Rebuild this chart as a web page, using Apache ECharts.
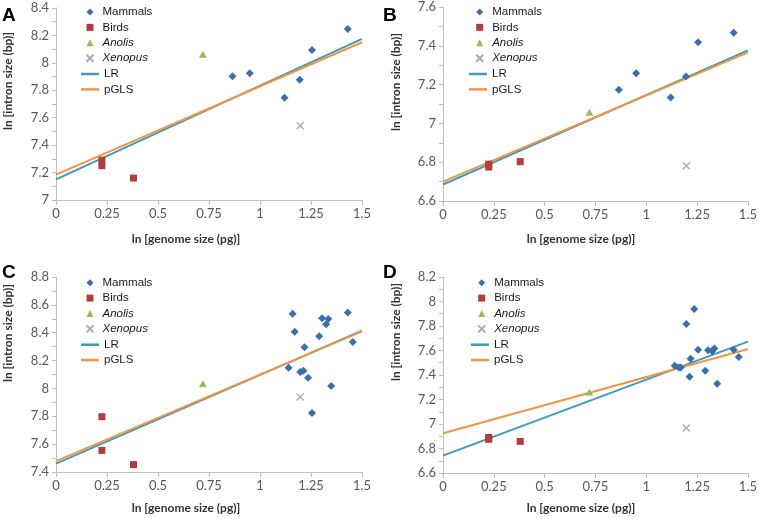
<!DOCTYPE html>
<html><head><meta charset="utf-8">
<script src="https://cdn.jsdelivr.net/npm/echarts@6/dist/echarts.min.js"></script>
<style>html,body{margin:0;padding:0;background:#fff}#c{width:760px;height:519px}</style>
</head><body><div id="c"></div><script>
// ---------- data ----------
const panels = ['A', 'B', 'C', 'D'];
const xTickInterval = 0.25;
const xMin = 0, xMax = 1.5;
const yMins = [7, 6.6, 7.4, 6.6];
const yMaxs = [8.4, 7.6, 8.8, 8.2];
const yInterval = 0.2;

const mamX_AB = [0.865, 0.95, 1.12, 1.195, 1.255, 1.43];
const mamA = [7.902, 7.924, 7.746, 7.877, 8.094, 8.247];
const mamB = [7.173, 7.259, 7.134, 7.242, 7.418, 7.467];
const mamX_CD = [1.14, 1.16, 1.17, 1.197, 1.213, 1.218, 1.236, 1.255, 1.29, 1.304, 1.324, 1.335, 1.349, 1.43, 1.455];
const mamC = [8.149, 8.537, 8.407, 8.118, 8.127, 8.295, 8.077, 7.824, 8.374, 8.503, 8.46, 8.498, 8.018, 8.546, 8.333];
const mamD = [7.476, 7.462, 7.462, 7.816, 7.386, 7.533, 7.939, 7.607, 7.435, 7.602, 7.593, 7.617, 7.329, 7.607, 7.547];

const birdX = [0.225, 0.225, 0.38];
const birdA = [7.29, 7.25, 7.16];
const birdB = [6.79, 6.775, 6.803];
const birdC = [7.797, 7.555, 7.453];
const birdD = [6.89, 6.875, 6.858];

const anolisX = 0.72;
const anolisY = [8.062, 7.058, 8.034, 7.261];
const xenopusX = 1.197;
const xenopusY = [7.542, 6.782, 7.939, 6.967];

const lineX = [0, 1.5];
const lrA = [7.15, 8.175], lrB = [6.685, 7.376], lrC = [7.46, 8.415], lrD = [6.742, 7.672];
const pgA = [7.185, 8.15], pgB = [6.70, 7.366], pgC = [7.478, 8.41], pgD = [6.925, 7.612];

const xTitle = 'ln [genome size (pg)]';
const yTitle = 'ln [intron size (bp)]';

// ---------- build ----------
const mamXs = [mamX_AB, mamX_AB, mamX_CD, mamX_CD];
const mamYs = [mamA, mamB, mamC, mamD];
const birdYs = [birdA, birdB, birdC, birdD];
const lrs = [lrA, lrB, lrC, lrD];
const pgs = [pgA, pgB, pgC, pgD];

const grids = [
  {left: 56, top: 8, width: 306, height: 192},
  {left: 443, top: 7, width: 305, height: 194},
  {left: 56, top: 277, width: 306, height: 195},
  {left: 443, top: 277, width: 305, height: 196}
];
const legendPos = [
  {sx: 85.5, lx: 81, top: 5.5},
  {sx: 475.2, lx: 469, top: 5.5},
  {sx: 85.5, lx: 81, top: 276.2},
  {sx: 477.2, lx: 471, top: 276.2}
];
const letterPos = [[2, 6], [383, 6], [2, 263], [383, 263]];
const xTitlePos = [[186, 239], [581, 239], [186, 508], [581, 508]];
const yTitlePos = [[8, 81], [396, 82], [8, 333], [396, 332]];

const C_MAM = '#3A6EAD', C_BIRD = '#B33D3A', C_ANO = '#9BBB59', C_XEN = '#ABA5C2';
const C_LR = '#3E9BBE', C_PG = '#F39443';
const xSymbol = 'path://M0,0L10,10M10,0L0,10';

const zip = (xs, ys) => xs.map((x, i) => [x, ys[i]]);

const xAxis = [], yAxis = [], series = [], legend = [], graphic = [];
panels.forEach((p, i) => {
  xAxis.push({
    type: 'value', gridIndex: i, min: xMin, max: xMax, interval: xTickInterval,
    axisLine: {show: true, lineStyle: {color: '#BFBFBF', width: 1}},
    axisTick: {show: true, length: 5, lineStyle: {color: '#BFBFBF'}},
    axisLabel: {fontFamily: 'Lato', fontSize: 13, color: '#595959', margin: 7},
    splitLine: {show: false}
  });
  yAxis.push({
    type: 'value', gridIndex: i, min: yMins[i], max: yMaxs[i], interval: yInterval,
    axisLine: {show: true, lineStyle: {color: '#BFBFBF', width: 1}},
    axisTick: {show: true, length: 4, lineStyle: {color: '#BFBFBF'}},
    minorTick: {show: true, splitNumber: 2, length: 4, lineStyle: {color: '#BFBFBF'}},
    axisLabel: {fontFamily: 'Lato', fontSize: 13, color: '#595959', margin: 7},
    splitLine: {show: false}
  });
  series.push({
    name: 'LR', type: 'line', xAxisIndex: i, yAxisIndex: i, data: zip(lineX, lrs[i]),
    symbol: 'none', lineStyle: {color: C_LR, width: 2}, itemStyle: {color: C_LR}, silent: true, z: 2
  });
  series.push({
    name: 'pGLS', type: 'line', xAxisIndex: i, yAxisIndex: i, data: zip(lineX, pgs[i]),
    symbol: 'none', lineStyle: {color: C_PG, width: 2}, itemStyle: {color: C_PG}, silent: true, z: 2
  });
  series.push({
    name: 'Mammals', type: 'scatter', xAxisIndex: i, yAxisIndex: i, data: zip(mamXs[i], mamYs[i]),
    symbol: 'diamond', symbolSize: 8, itemStyle: {color: C_MAM, opacity: 1}, z: 3
  });
  series.push({
    name: 'Birds', type: 'scatter', xAxisIndex: i, yAxisIndex: i, data: zip(birdX, birdYs[i]),
    symbol: 'rect', symbolSize: 7, itemStyle: {color: C_BIRD, opacity: 1}, z: 3
  });
  series.push({
    name: 'Anolis', type: 'scatter', xAxisIndex: i, yAxisIndex: i, data: [[anolisX, anolisY[i]]],
    symbol: 'triangle', symbolSize: [8, 7], itemStyle: {color: C_ANO, opacity: 1}, z: 3
  });
  series.push({
    name: 'Xenopus', type: 'scatter', xAxisIndex: i, yAxisIndex: i, data: [[xenopusX, xenopusY[i]]],
    symbol: xSymbol, symbolSize: 7, itemStyle: {color: 'rgba(0,0,0,0)', borderColor: C_XEN, borderWidth: 1.3, opacity: 1}, z: 3
  });
  const lp = legendPos[i];
  const txt = {fontFamily: 'Liberation Sans', fontSize: 11.5, color: '#1A1A1A', lineHeight: 13, padding: [0, 0, 0, 4]};
  legend.push({
    orient: 'vertical', left: lp.sx, top: lp.top, itemWidth: 7, itemHeight: 7, itemGap: 2.4,
    padding: 0, selectedMode: false, textStyle: txt,
    data: [
      {name: 'Mammals'}, {name: 'Birds'},
      {name: 'Anolis', textStyle: {fontStyle: 'italic'}},
      {name: 'Xenopus', textStyle: {fontStyle: 'italic'}}
    ]
  });
  legend.push({
    orient: 'vertical', left: lp.lx, top: lp.top + 62, itemWidth: 18, itemHeight: 2.5, itemGap: 2.4,
    padding: 0, selectedMode: false, icon: 'rect',
    textStyle: {fontFamily: 'Liberation Sans', fontSize: 11.5, color: '#1A1A1A', lineHeight: 13},
    data: [{name: 'LR'}, {name: 'pGLS'}]
  });
  graphic.push({
    type: 'text', left: letterPos[i][0], top: letterPos[i][1],
    style: {text: p, font: 'bold 19px "Liberation Sans"', fill: '#000'}
  });
  graphic.push({
    type: 'text', x: xTitlePos[i][0], y: xTitlePos[i][1],
    style: {text: xTitle, font: 'bold 12px Lato', fill: '#333', textAlign: 'center', textVerticalAlign: 'middle', align: 'center', verticalAlign: 'middle'}
  });
  graphic.push({
    type: 'text', x: yTitlePos[i][0], y: yTitlePos[i][1], rotation: Math.PI / 2,
    style: {text: yTitle, font: 'bold 12px Lato', fill: '#333', textAlign: 'center', textVerticalAlign: 'middle', align: 'center', verticalAlign: 'middle'}
  });
});

const chart = echarts.init(document.getElementById('c'), null, {renderer: 'canvas'});
chart.setOption({
  animation: false,
  backgroundColor: '#fff',
  grid: grids,
  xAxis, yAxis, series, legend, graphic
});
</script></body></html>
